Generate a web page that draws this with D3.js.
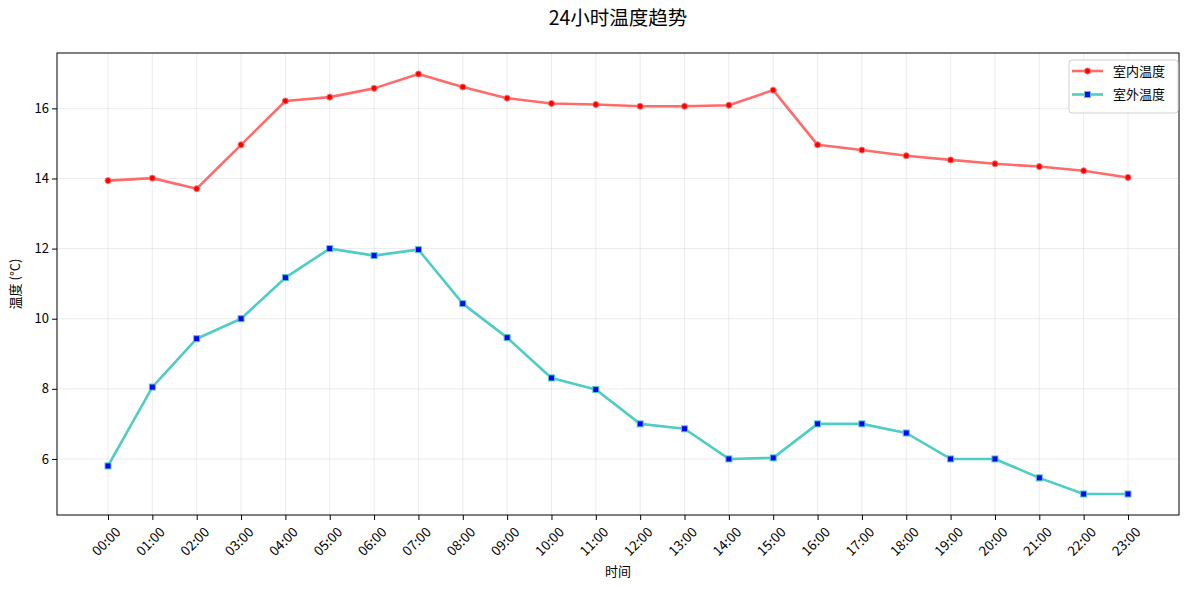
<!DOCTYPE html>
<html><head><meta charset="utf-8">
<script src="https://cdn.jsdelivr.net/npm/d3@7"></script>
<style>
html,body{margin:0;padding:0;background:#fff;}
text{font-family:"Noto Sans CJK SC","Noto Sans",sans-serif;}
</style></head>
<body><svg id="c" width="1189" height="590"></svg>
<script>
const hours = ["00:00","01:00","02:00","03:00","04:00","05:00","06:00","07:00","08:00","09:00","10:00","11:00","12:00","13:00","14:00","15:00","16:00","17:00","18:00","19:00","20:00","21:00","22:00","23:00"];
const indoor = [13.94,14.01,13.71,14.96,16.21,16.32,16.57,16.98,16.61,16.29,16.14,16.11,16.06,16.06,16.09,16.52,14.96,14.81,14.65,14.53,14.42,14.34,14.22,14.03];
const outdoor = [5.8,8.05,9.43,10.0,11.17,12.0,11.8,11.97,10.43,9.46,8.31,7.98,7.0,6.86,6.0,6.03,7.0,7.0,6.74,6.0,6.0,5.46,5.0,5.0];
const yTicks = [6,8,10,12,14,16];
const seriesNames = ["室内温度","室外温度"];
const title = "24小时温度趋势";
const xLabel = "时间";
const yLabel = "温度 (°C)";

const svg = d3.select("#c");
const L = 57, R = 1179, T = 53, B = 515;
const n = hours.length;
const x = d3.scaleLinear().domain([-0.05*(n-1), (n-1)*1.05]).range([L, R]);
const allV = indoor.concat(outdoor);
const vmin = d3.min(allV), vmax = d3.max(allV), pad = (vmax - vmin)*0.05;
const y = d3.scaleLinear().domain([vmin - pad, vmax + pad]).range([B, T]);

// grid
const g = svg.append("g");
g.selectAll(".vg").data(d3.range(n)).join("line")
  .attr("x1", d => x(d)).attr("x2", d => x(d)).attr("y1", T).attr("y2", B)
  .attr("stroke", "#b0b0b0").attr("stroke-opacity", 0.3).attr("stroke-width", 0.8);
g.selectAll(".hg").data(yTicks).join("line")
  .attr("x1", L).attr("x2", R).attr("y1", d => y(d)).attr("y2", d => y(d))
  .attr("stroke", "#b0b0b0").attr("stroke-opacity", 0.3).attr("stroke-width", 0.8);

// axes
const xAxis = d3.axisBottom(x).tickValues(d3.range(n)).tickFormat(i => hours[i]).tickSize(5).tickSizeOuter(0);
const xg = svg.append("g").attr("transform", `translate(0,${B})`).call(xAxis);
xg.select(".domain").remove();
xg.selectAll(".tick line").attr("stroke", "#000").attr("stroke-width", 1);
xg.selectAll(".tick text").attr("font-size", 13.5).attr("fill", "#000")
  .attr("text-anchor", "end").attr("dy", null).attr("y", 0)
  .attr("transform", "translate(13,18) rotate(-45)");

const yAxis = d3.axisLeft(y).tickValues(yTicks).tickSize(5).tickSizeOuter(0);
const yg = svg.append("g").attr("transform", `translate(${L},0)`).call(yAxis);
yg.select(".domain").remove();
yg.selectAll(".tick line").attr("stroke", "#000").attr("stroke-width", 1);
yg.selectAll(".tick text").attr("font-size", 13).attr("fill", "#000").attr("x", -8);

svg.append("rect").attr("x", L).attr("y", T).attr("width", R-L).attr("height", B-T)
  .attr("fill", "none").attr("stroke", "#000").attr("stroke-width", 1);

// lines
const line = d3.line().x((d,i) => x(i)).y(d => y(d));
svg.append("path").datum(indoor).attr("d", line).attr("fill", "none")
  .attr("stroke", "#FF6B6B").attr("stroke-width", 2.6).attr("stroke-linejoin", "round");
svg.selectAll(".pi").data(indoor).join("circle")
  .attr("cx", (d,i) => x(i)).attr("cy", d => y(d)).attr("r", 3)
  .attr("fill", "#ff0000").attr("stroke", "#ff6b6b").attr("stroke-width", 1);

svg.append("path").datum(outdoor).attr("d", line).attr("fill", "none")
  .attr("stroke", "#4ECDC4").attr("stroke-width", 2.6).attr("stroke-linejoin", "round");
svg.selectAll(".po").data(outdoor).join("rect")
  .attr("x", (d,i) => x(i) - 3).attr("y", d => y(d) - 3).attr("width", 6).attr("height", 6)
  .attr("fill", "#0000ff").attr("stroke", "#4ECDC4").attr("stroke-width", 1);

// legend
const lg = svg.append("g");
lg.append("rect").attr("x", 1069).attr("y", 60).attr("width", 109).attr("height", 53).attr("rx", 3)
  .attr("fill", "#fff").attr("fill-opacity", 0.8).attr("stroke", "#d0d0d0").attr("stroke-width", 1);
[[0,"#FF6B6B"],[1,"#4ECDC4"]].forEach(([k,c]) => {
  const yy = 71 + k*23.5;
  lg.append("line").attr("x1", 1072).attr("x2", 1103).attr("y1", yy).attr("y2", yy)
    .attr("stroke", c).attr("stroke-width", 2.6);
  if (k === 0) lg.append("circle").attr("cx", 1087.5).attr("cy", yy).attr("r", 3)
    .attr("fill", "#ff0000").attr("stroke", "#ff6b6b");
  else lg.append("rect").attr("x", 1084.5).attr("y", yy-3).attr("width", 6).attr("height", 6)
    .attr("fill", "#0000ff").attr("stroke", "#4ECDC4");
  lg.append("text").attr("x", 1113).attr("y", yy).attr("dy", "0.35em")
    .attr("font-size", 13).attr("fill", "#000").text(seriesNames[k]);
});

// labels
svg.append("text").attr("x", (L+R)/2).attr("y", 25).attr("text-anchor", "middle")
  .attr("font-size", 19.5).attr("fill", "#000").text(title);
svg.append("text").attr("x", (L+R)/2).attr("y", 576).attr("text-anchor", "middle")
  .attr("font-size", 13).attr("fill", "#000").text(xLabel);
svg.append("text").attr("transform", `translate(20,${(T+B)/2}) rotate(-90)`).attr("text-anchor", "middle")
  .attr("font-size", 13).attr("fill", "#000").text(yLabel);
</script></body></html>
